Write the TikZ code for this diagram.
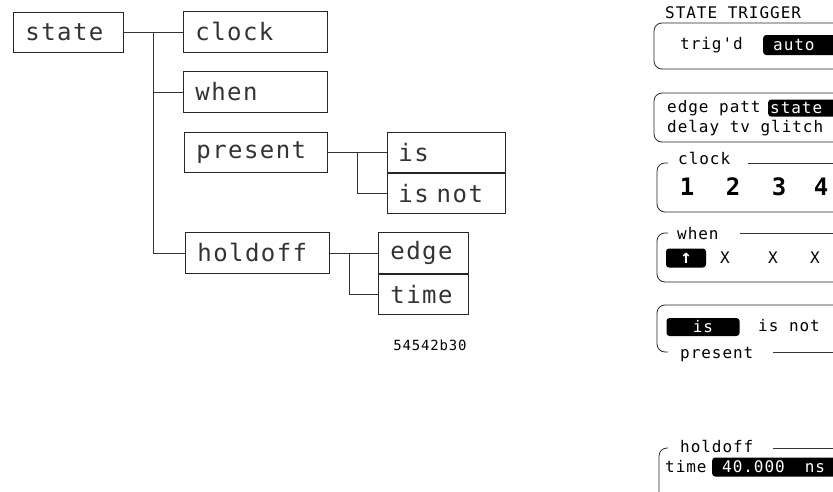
\documentclass[tikz,border=0pt]{standalone}
\usepackage{fontspec}
\newfontfamily\hpfont{DejaVu Sans Mono}[LetterSpace=6]
\usetikzlibrary{calc}

\tikzset{
  menubox/.style={draw=black!85, line width=0.8pt, anchor=north west, inner xsep=12pt, inner ysep=0pt,
    align=left, text=black!80, font=\hpfont\fontsize{24}{28}\selectfont},
  link/.style={draw=black!80, line width=0.8pt},
  panelline/.style={draw=black!85, line width=0.8pt, rounded corners=8pt},
  paneltext/.style={inner sep=0pt, anchor=west, font=\hpfont\fontsize{16}{19}\selectfont},
  hilite/.style={fill=black, text=white, rounded corners=3pt, inner xsep=10pt, inner ysep=0pt, anchor=west,
    align=left, font=\hpfont\fontsize{16}{19}\selectfont},
  bignum/.style={inner sep=0pt, font=\hpfont\bfseries\fontsize{24}{28}\selectfont}
}

\begin{document}
\begin{tikzpicture}[x=1pt, y=-1pt]
  \useasboundingbox (0,0) rectangle (833,491);
  \clip (0,0) rectangle (833,491);

  % menu tree
  \node[menubox, text width=86pt, minimum height=40pt] (state) at (13,12) {state};
  \node[menubox, text width=120pt, minimum height=41pt] (clock) at (183,11) {clock};
  \node[menubox, text width=120pt, minimum height=41pt] (when) at (183,71) {when};
  \node[menubox, text width=119pt, minimum height=40pt] (present) at (184,132) {present};
  \node[menubox, text width=96pt, inner xsep=11pt, minimum height=40pt] (is) at (387,132) {is};
  \node[menubox, text width=96pt, inner xsep=11pt, minimum height=40pt] (isnot) at (is.south west) {is not};
  \node[menubox, text width=120pt, minimum height=41pt] (holdoff) at (185,232) {holdoff};
  \node[menubox, text width=66pt, minimum height=41pt] (edge) at (378,232) {edge};
  \node[menubox, text width=66pt, minimum height=40pt] (time) at (edge.south west) {time};

  \coordinate (trunk) at ($(state.east)!0.5!(state.east -| clock.west)$);
  \draw[link] (state.east) -- (state.east -| clock.west);
  \draw[link] (trunk) |- (holdoff.west);
  \draw[link] (trunk |- when.west) -- (when.west);

  \coordinate (pfork) at ($(present.east)!0.5!(is.west)$);
  \draw[link] (present.east) -- (is.west);
  \draw[link] (pfork) |- (isnot.west);

  \coordinate (hfork) at ($(holdoff.east)!0.4!(edge.west)$);
  \draw[link] (holdoff.east) -- (edge.west);
  \draw[link] (hfork) |- (time.west);

  \node[paneltext, anchor=center, font=\hpfont\fontsize{14}{17}\selectfont] (figno) at (430,345) {54542b30};

  % trigger screen
  \node[paneltext] (title) at (665,13) {STATE TRIGGER};

  \draw[panelline] (840,23) -- (654,23) -- (654,69) -- (840,69);
  \node[paneltext] (trigd) at (680,45) {trig'd};
  \node[hilite, text width=70pt, minimum height=20pt] (auto) at (763,45) {auto};

  \draw[panelline] (840,93) -- (654,93) -- (654,142) -- (840,142);
  \node[paneltext] (edgepatt) at (667,108) {edge patt};
  \node[hilite, inner xsep=2pt, text width=70pt, minimum height=17pt] (statesel) at (768,108) {state};
  \node[paneltext] (delay) at (667,128) {delay tv glitch};

  \node[paneltext] (clocklbl) at (678,158) {clock};
  \draw[panelline] (668,163) -- (657,163) -- (657,212) -- (840,212);
  \draw[link] (748,163) -- (840,163);
  \foreach \n/\x in {1/687, 2/733, 3/779, 4/821}
    \node[bignum] (clk\n) at (\x,187) {\n};

  \node[paneltext] (whenlbl) at (677,234) {when};
  \draw[panelline] (668,233) -- (657,233) -- (657,282) -- (840,282);
  \draw[link] (740,233) -- (840,233);
  \node[hilite, anchor=center, inner xsep=0pt, minimum width=40pt, minimum height=19pt,
    font=\hpfont\bfseries\fontsize{19}{20}\selectfont] (rise) at (686,258) {\textuparrow};
  \foreach \i/\x in {1/725, 2/773, 3/815}
    \node[paneltext, anchor=center] (x\i) at (\x,258) {X};

  \draw[panelline] (840,305) -- (657,305) -- (657,352) -- (668,352);
  \draw[link] (773,352) -- (840,352);
  \node[paneltext] (preslbl) at (680,355) {present};
  \node[hilite, anchor=center, inner xsep=0pt, minimum width=73pt, minimum height=18pt] (issel) at (703,327) {is};
  \node[paneltext] (isnottxt) at (758,326) {is not};

  \node[paneltext] (holdlbl) at (680,446) {holdoff};
  \draw[panelline] (668,448) -- (659,448) -- (659,500);
  \draw[link] (773,448) -- (840,448);
  \node[paneltext] (timetxt) at (665,467) {time};
  \node[hilite, text width=110pt, minimum height=19pt] (holdval) at (712,467) {40.000\hspace{20pt}ns};
\end{tikzpicture}
\end{document}
